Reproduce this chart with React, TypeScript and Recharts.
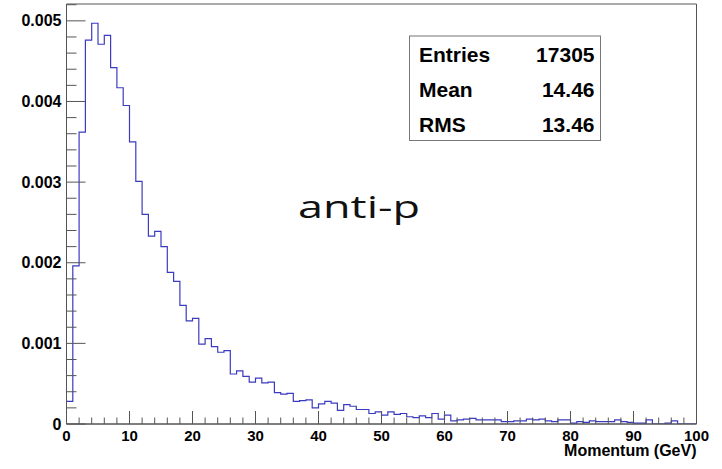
import React from 'react';
import { Line, LineChart, ReferenceArea, XAxis, YAxis } from 'recharts';

// normalised counts per 1 GeV bin, 0..100 GeV
const binValues = [
  0.00028, 0.00196, 0.00362, 0.00476, 0.00497, 0.00471, 0.00482, 0.00442, 0.00417, 0.00395,
  0.0035, 0.00301, 0.0026, 0.00233, 0.00239, 0.0022, 0.00188, 0.00177, 0.00147, 0.00128,
  0.00131, 0.00099, 0.00106, 0.00096, 0.00089, 0.00091, 0.00062, 0.00066, 0.00059, 0.00052,
  0.00057, 0.00051, 0.00052, 0.00039, 0.00037, 0.00038, 0.00028, 0.00029, 0.0003, 0.0002,
  0.00025, 0.00028, 0.00026, 0.00017, 0.00024, 0.00022, 0.00018, 0.00018, 0.00013, 0.00015,
  0.00011, 0.00015, 0.00012, 0.00013, 0.00009, 0.00008, 0.0001, 0.00008, 0.00013, 0.00006,
  0.00011, 0.00004, 0.00005, 0.00006, 0.00007, 0.00005, 0.00005, 0.00005, 0.00005, 0.00003,
  0.00003, 0.00004, 0.00004, 0.00006, 0.00005, 0.00006, 0.00004, 0.00003, 0.00005, 0.00005,
  0.00001, 0.00003, 0.00002, 0.00004, 0.00003, 0.00003, 0.00003, 0.00005, 0.00003, 0.00002,
  0.00001, 0.00001, 0.00005, 0, 0, 0.00001, 0.00004, 0, 0, 0,
];

const xMajorTicks = [0, 10, 20, 30, 40, 50, 60, 70, 80, 90, 100];
const xMinorTicks = [
  2, 4, 6, 8, 12, 14, 16, 18, 22, 24, 26, 28, 32, 34, 36, 38, 42, 44, 46, 48,
  52, 54, 56, 58, 62, 64, 66, 68, 72, 74, 76, 78, 82, 84, 86, 88, 92, 94, 96, 98,
];
const yMajorTicks = [0, 0.001, 0.002, 0.003, 0.004, 0.005];
const yMajorLabels = ['0', '0.001', '0.002', '0.003', '0.004', '0.005'];
const yMinorTicks = [
  0.0002, 0.0004, 0.0006, 0.0008, 0.0012, 0.0014, 0.0016, 0.0018, 0.0022, 0.0024, 0.0026,
  0.0028, 0.0032, 0.0034, 0.0036, 0.0038, 0.0042, 0.0044, 0.0046, 0.0048, 0.0052,
];
const yMax = 0.005209;

const statsRows = [
  ['Entries', '17305'],
  ['Mean', '14.46'],
  ['RMS', '13.46'],
];
const particleLabel = 'anti-p';
const xAxisTitle = 'Momentum (GeV)';

const AXIS = '#555';
const LINE = '#3b3bc0';
const FONT = '"Liberation Sans", Arial, Helvetica, sans-serif';
const GAP = 4;

const chartData = [
  ...binValues.map((v, i) => ({ x: i, v })),
  { x: binValues.length, v: binValues[binValues.length - 1] },
];

const isNear = (a: number, b: number) => Math.abs(a - b) < 1e-9;

const YTick = (props: any) => {
  const { x, y, payload } = props;
  const axisX = x + GAP;
  const idx = yMajorTicks.findIndex((t) => isNear(t, payload.value));
  const major = idx >= 0;
  return (
    <g>
      <line x1={axisX} x2={axisX + (major ? 19 : 10)} y1={y} y2={y} stroke={AXIS} strokeWidth={1} />
      {major && (
        <text
          x={axisX - 5}
          y={y + 5.5}
          textAnchor="end"
          fontFamily={FONT}
          fontWeight="bold"
          fontSize={16}
          fill="#000"
        >
          {yMajorLabels[idx]}
        </text>
      )}
    </g>
  );
};

const XTick = (props: any) => {
  const { x, y, payload } = props;
  const axisY = y - GAP;
  const major = xMajorTicks.some((t) => isNear(t, payload.value));
  return (
    <g>
      <line x1={x} x2={x} y1={axisY} y2={axisY - (major ? 13 : 6.5)} stroke={AXIS} strokeWidth={1} />
      {major && (
        <text
          x={x}
          y={axisY + 16.5}
          textAnchor="middle"
          fontFamily={FONT}
          fontWeight="bold"
          fontSize={15}
          fill="#000"
        >
          {payload.value}
        </text>
      )}
    </g>
  );
};

export default function App() {
  return (
    <div style={{ position: 'absolute', left: 0, top: 0, width: 722, height: 469, background: '#fff' }}>
      <LineChart
        width={722}
        height={469}
        data={chartData}
        margin={{ top: 4, right: 25.5, bottom: 0, left: 0 }}
      >
        <XAxis
          dataKey="x"
          type="number"
          domain={[0, 100]}
          ticks={[...xMajorTicks, ...xMinorTicks]}
          interval={0}
          height={45}
          tickSize={0}
          tickMargin={GAP}
          tickLine={false}
          axisLine={{ stroke: AXIS }}
          tick={<XTick />}
        />
        <YAxis
          type="number"
          domain={[0, yMax]}
          allowDataOverflow
          ticks={[...yMajorTicks, ...yMinorTicks]}
          interval={0}
          width={66.5}
          tickSize={0}
          tickMargin={GAP}
          tickLine={false}
          axisLine={{ stroke: AXIS }}
          tick={<YTick />}
        />
        <ReferenceArea x1={0} x2={100} y1={0} y2={yMax} fill="none" stroke={AXIS} strokeWidth={1} />
        <Line
          dataKey="v"
          type="stepAfter"
          stroke={LINE}
          strokeWidth={1.2}
          dot={false}
          activeDot={false}
          isAnimationActive={false}
        />
      </LineChart>
      <svg
        width={722}
        height={469}
        style={{ position: 'absolute', left: 0, top: 0, pointerEvents: 'none' }}
      >
        <rect x={409.5} y={36} width={191} height={104.5} fill="#fff" stroke="#777" strokeWidth={1} />
        {statsRows.map(([name, value], i) => (
          <g key={name} fontFamily={FONT} fontWeight="bold" fontSize={21} fill="#000">
            <text x={419} y={61.7 + i * 35}>{name}</text>
            <text x={594.5} y={61.7 + i * 35} textAnchor="end">{value}</text>
          </g>
        ))}
        <text
          x={298}
          y={217.5}
          fontFamily='"Open Sans", "Noto Sans", sans-serif'
          fontSize={31}
          textLength={122}
          lengthAdjust="spacingAndGlyphs"
          fill="#111"
        >
          {particleLabel}
        </text>
        <text
          x={696.5}
          y={456}
          textAnchor="end"
          fontFamily={FONT}
          fontWeight="bold"
          fontSize={16}
          fill="#000"
        >
          {xAxisTitle}
        </text>
      </svg>
    </div>
  );
}
